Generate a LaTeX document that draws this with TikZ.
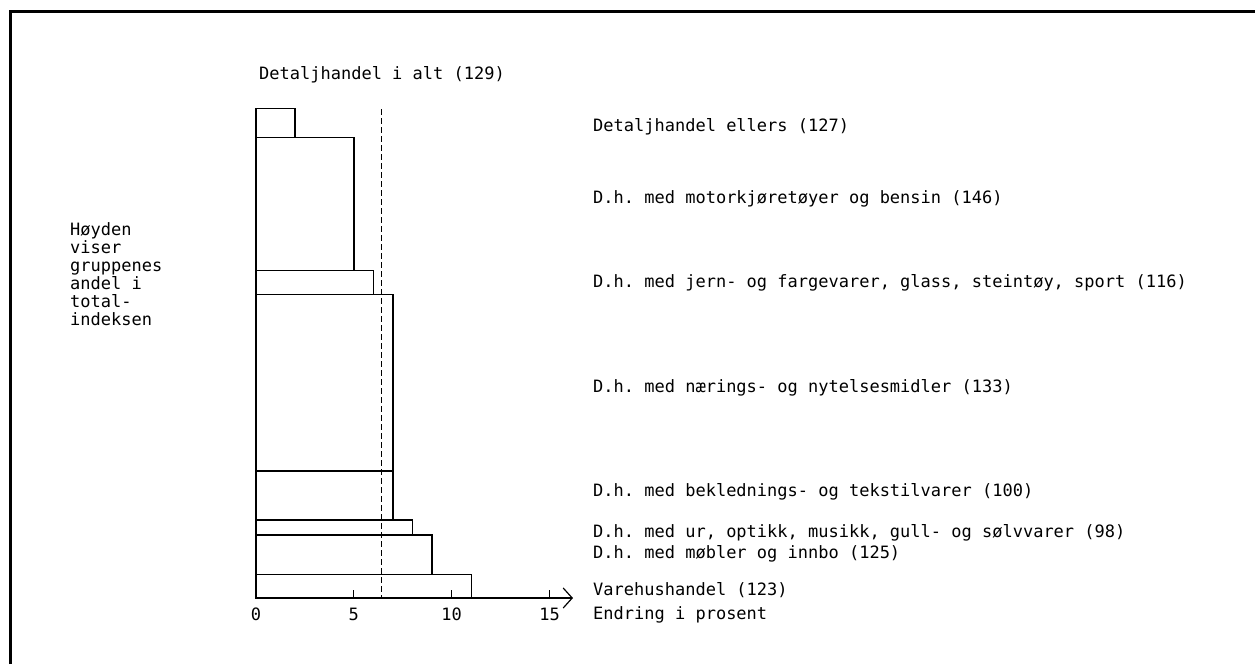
\documentclass[tikz,border=0pt]{standalone}
\usepackage{fontspec}
\newfontfamily\tw{DejaVu Sans Mono}
\usetikzlibrary{arrows.meta}
\frenchspacing
\begin{document}
\begin{tikzpicture}[x=1pt,y=-1pt,
  txt/.style={anchor=base west,inner sep=0pt,font=\tw\frenchspacing\fontsize{17}{18}\selectfont},
  tick/.style={anchor=base,inner sep=0pt,font=\tw\fontsize{17}{18}\selectfont},
  bar/.style={draw,line width=1.4pt},
  frame/.style={line width=3pt}]
\useasboundingbox (0,0) rectangle (1255,664);
\def\xs{19.57}
% frame
\draw[frame] (10,664) -- (10,11) -- (1255,11);
% bars
\foreach \t/\b/\v in {108.7/137.7/2, 137.7/270.7/5, 270.7/294.3/6, 294.3/471/7, 471/520/7, 520/535/8, 535/574.3/9, 574.3/598/11}
  \draw[bar] (256,\t) rectangle ({256+\xs*\v},\b);
% dashed total line
\draw[line width=1.3pt,dash pattern=on 6pt off 3pt] ({256+\xs*6.4},109) -- ({256+\xs*6.4},598);
% axis
\coordinate (o) at (256,598);
\coordinate (e) at (573,598);
\draw[line width=1.4pt,-{Straight Barb[length=9pt,width=20pt,line width=1.2pt]}] (o) -- (e);
\foreach \v in {5,10,15} \draw[line width=1.2pt] ({256+\xs*\v},598) -- ({256+\xs*\v},590);
\foreach \v in {0,5,10,15} \node[tick] (t\v) at ({256+\xs*\v},620) {\v};
% texts
\node[txt] (total) at (259,79) {Detaljhandel i alt (129)};
\node[txt] (l1) at (593,131) {Detaljhandel ellers (127)};
\node[txt] (l2) at (593,203) {D.h. med motorkjøretøyer og bensin (146)};
\node[txt] (l3) at (593,287) {D.h. med jern- og fargevarer, glass, steintøy, sport (116)};
\node[txt] (l4) at (593,392) {D.h. med nærings- og nytelsesmidler (133)};
\node[txt] (l5) at (593,496) {D.h. med beklednings- og tekstilvarer (100)};
\node[txt] (l6) at (593,537) {D.h. med ur, optikk, musikk, gull- og sølvvarer (98)};
\node[txt] (l7) at (593,558) {D.h. med møbler og innbo (125)};
\node[txt] (l8) at (593,595) {Varehushandel (123)};
\node[txt] (ax) at (593,619) {Endring i prosent};
\foreach \s/\y/\n in {Høyden/235/h1, viser/253/h2, gruppenes/271/h3, andel i/289/h4, total-/307/h5, indeksen/325/h6}
  \node[txt] (\n) at (70,\y) {\s};
\end{tikzpicture}
\end{document}
